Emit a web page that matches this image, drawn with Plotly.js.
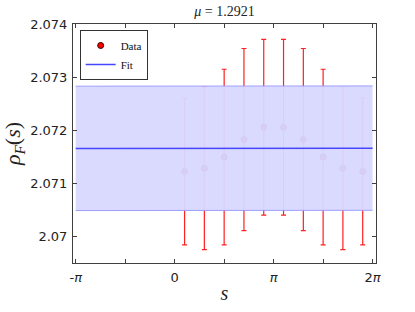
<!DOCTYPE html>
<html>
<head>
<meta charset="utf-8">
<script src="https://cdn.plot.ly/plotly-3.0.1.min.js"></script>
<style>html,body{margin:0;padding:0;background:#fff;}#chart{width:415px;height:312px;}</style>
</head>
<body>
<div id="chart"></div>
<script>
// Data (s in units of pi)
var dataSPi = [0.1, 0.3, 0.5, 0.7, 0.9, 1.1, 1.3, 1.5, 1.7, 1.9];
var dataRho = [2.07123, 2.07129, 2.07150, 2.07183, 2.07206, 2.07206, 2.07183, 2.07150, 2.07129, 2.07123];
var dataErr = [0.00138, 0.00153, 0.00165, 0.00171, 0.00165, 0.00165, 0.00171, 0.00165, 0.00153, 0.00138];

// Fit (s in units of pi)
var fitSPi = [-1, 2];
var fitMid = [2.071660, 2.071665];
var fitLow = [2.070495, 2.070500];
var fitHigh = [2.072832, 2.072837];

var xTickPi = [-1, 0, 1, 2];
var xTickText = ['-<i>π</i>', '0', '<i>π</i>', '2<i>π</i>'];
var yTicks = [2.070, 2.071, 2.072, 2.073, 2.074];
var yTickText = ['2.07', '2.071', '2.072', '2.073', '2.074'];

var PI = Math.PI;
var toRad = function(a){ return a.map(function(v){ return v * PI; }); };

var serif = 'Liberation Serif, DejaVu Serif, serif';
var sans = 'DejaVu Sans, sans-serif';

var traces = [
  {
    x: toRad(dataSPi), y: dataRho, type: 'scatter', mode: 'markers', name: 'Data',
    marker: {color: '#ff0000', size: 6, line: {color: '#3a0000', width: 1}},
    error_y: {type: 'data', array: dataErr, visible: true, color: '#ff2020', thickness: 1.2, width: 2.5}
  },
  {
    x: toRad(fitSPi), y: fitLow, type: 'scatter', mode: 'lines', showlegend: false, hoverinfo: 'skip',
    line: {color: 'rgba(150,150,255,0.9)', width: 1}
  },
  {
    x: toRad(fitSPi), y: fitHigh, type: 'scatter', mode: 'lines', showlegend: false, hoverinfo: 'skip',
    fill: 'tonexty', fillcolor: 'rgba(216,216,255,0.95)',
    line: {color: 'rgba(150,150,255,0.9)', width: 1}
  },
  {
    x: toRad(fitSPi), y: fitMid, type: 'scatter', mode: 'lines', name: 'Fit',
    line: {color: '#4646ff', width: 1.5}
  }
];

var layout = {
  width: 415, height: 312,
  margin: {l: 73.3, r: 39.3, t: 24, b: 48.7},
  paper_bgcolor: '#ffffff', plot_bgcolor: '#ffffff',
  showlegend: true,
  title: {
    text: '<i>μ</i> = 1.2921',
    font: {family: serif, size: 14, color: '#222'},
    x: 0.5, xref: 'paper', xanchor: 'center',
    y: 1 - 11/312, yref: 'container', yanchor: 'middle'
  },
  xaxis: {
    range: [-3.2275, 6.391],
    tickmode: 'array', tickvals: toRad(xTickPi), ticktext: xTickText,
    ticks: 'inside', ticklen: 4, tickcolor: '#404040', tickwidth: 1,
    minor: {tick0: 0, dtick: PI / 2, ticks: 'inside', ticklen: 4, tickcolor: '#404040', tickwidth: 1, showgrid: false},
    showline: true, linecolor: '#404040', linewidth: 1, mirror: 'ticks',
    showgrid: false, zeroline: false,
    tickfont: {family: sans, size: 13, color: '#222'},
    ticklabelstandoff: 2,
    title: {text: '<i>s</i>', font: {family: serif, size: 20, color: '#222'}, standoff: 2}
  },
  yaxis: {
    range: [2.06951, 2.074],
    tickmode: 'array', tickvals: yTicks, ticktext: yTickText,
    ticks: 'inside', ticklen: 4, tickcolor: '#404040', tickwidth: 1,
    showline: true, linecolor: '#404040', linewidth: 1, mirror: 'ticks',
    showgrid: false, zeroline: false,
    tickfont: {family: sans, size: 13, color: '#222'},
    ticklabelstandoff: 2,
    title: {text: '<i>ρ</i><sub><i>F</i></sub>(<i>s</i>)', font: {family: serif, size: 22, color: '#222'}, standoff: 4}
  },
  legend: {
    x: 0.022, y: 0.975, xanchor: 'left', yanchor: 'top',
    bgcolor: '#ffffff', bordercolor: '#333333', borderwidth: 1,
    font: {family: serif, size: 11, color: '#111'},
    itemwidth: 30, tracegroupgap: 0, traceorder: 'normal'
  }
};

Plotly.newPlot('chart', traces, layout, {displayModeBar: false, staticPlot: true});
</script>
</body>
</html>
